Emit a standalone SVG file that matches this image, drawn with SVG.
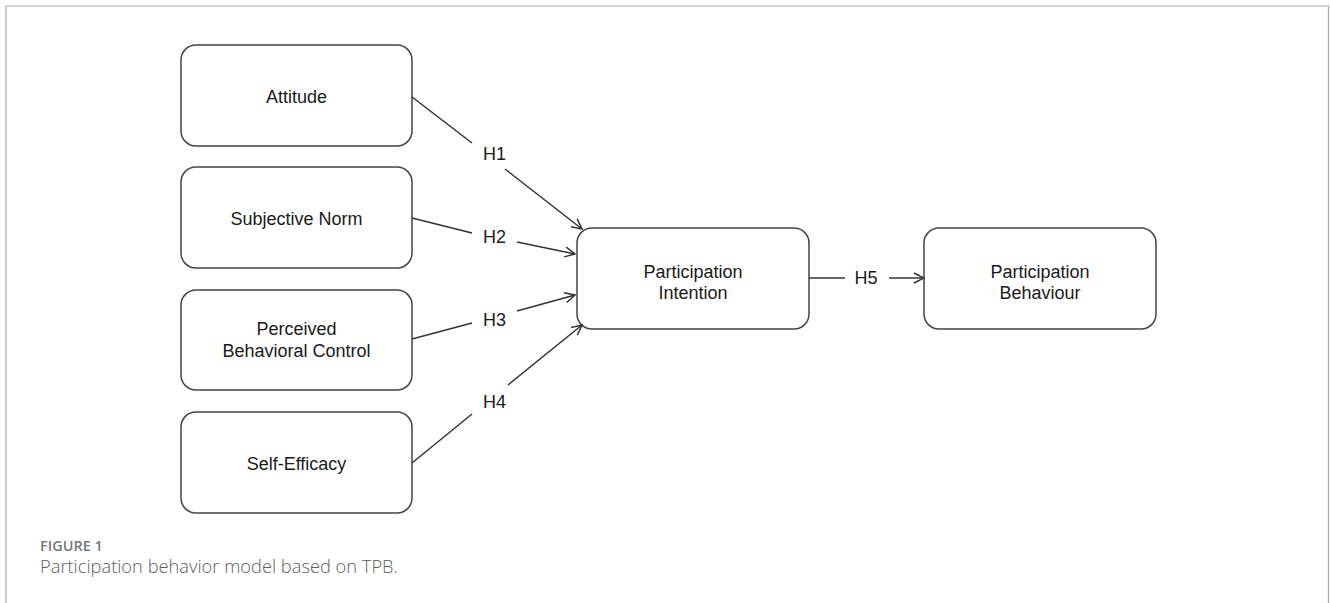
<svg xmlns="http://www.w3.org/2000/svg" width="1330" height="603" viewBox="0 0 1330 603">
<style>
.box{fill:#fff;stroke:#444;stroke-width:1.5}
.t{font-family:"Liberation Sans",Arial,sans-serif;font-size:18px;fill:#1a1a1a;text-anchor:middle}
.h{font-family:"Liberation Sans",Arial,sans-serif;font-size:18px;fill:#1a1a1a;text-anchor:middle}
.c{fill:none;stroke:#333;stroke-width:1.5}
.frame{fill:none;stroke:#aaa;stroke-width:1.2}
</style>
<defs>
<marker id="arr" viewBox="0 0 12 12" refX="11" refY="6" markerWidth="12" markerHeight="12" markerUnits="userSpaceOnUse" orient="auto">
<path d="M1,1 L11,6 L1,11" fill="none" stroke="#333" stroke-width="1.5"/>
</marker>
</defs>
<rect width="1330" height="603" fill="#fff"/>
<path class="frame" d="M6,603 V6 H1328.5 V603"/>
<g id="attitude"><rect class="box" x="181" y="45" width="231" height="101" rx="15"/><text class="t" x="296.5" y="103">Attitude</text></g>
<g id="subjective-norm"><rect class="box" x="181" y="167" width="231" height="101" rx="15"/><text class="t" x="296.5" y="225">Subjective Norm</text></g>
<g id="pbc"><rect class="box" x="181" y="290" width="231" height="100" rx="15"/><text class="t" x="296.5" y="335">Perceived</text><text class="t" x="296.5" y="357">Behavioral Control</text></g>
<g id="self-efficacy"><rect class="box" x="181" y="412" width="231" height="101" rx="15"/><text class="t" x="296.5" y="470">Self-Efficacy</text></g>
<g id="intention"><rect class="box" x="577" y="228" width="232" height="101" rx="15"/><text class="t" x="693" y="278">Participation</text><text class="t" x="693" y="299">Intention</text></g>
<g id="behaviour"><rect class="box" x="924" y="228" width="232" height="101" rx="15"/><text class="t" x="1040" y="278">Participation</text><text class="t" x="1040" y="299">Behaviour</text></g>
<g id="connectors">
<line class="c" x1="412" y1="97" x2="472" y2="143"/>
<line class="c" x1="505" y1="169" x2="582" y2="229" marker-end="url(#arr)"/>
<line class="c" x1="412" y1="218" x2="472" y2="233"/>
<line class="c" x1="517" y1="242" x2="575" y2="254" marker-end="url(#arr)"/>
<line class="c" x1="412" y1="339" x2="472" y2="323"/>
<line class="c" x1="517" y1="311" x2="575" y2="295" marker-end="url(#arr)"/>
<line class="c" x1="412" y1="463" x2="472" y2="414"/>
<line class="c" x1="508" y1="385" x2="582" y2="325" marker-end="url(#arr)"/>
<line class="c" x1="809" y1="278" x2="845" y2="278"/>
<line class="c" x1="889" y1="278" x2="924" y2="278" marker-end="url(#arr)"/>
<text class="h" x="494.5" y="160">H1</text>
<text class="h" x="494.5" y="243">H2</text>
<text class="h" x="494.5" y="326">H3</text>
<text class="h" x="494.5" y="408">H4</text>
<text class="h" x="866" y="284">H5</text>
</g>
<text x="40" y="551" font-family="'Open Sans',sans-serif" font-size="14.5" font-weight="600" fill="#777">FIGURE 1</text>
<text x="40" y="573" font-family="'Open Sans',sans-serif" font-size="18.3" font-weight="300" fill="#5e5e5e">Participation behavior model based on TPB.</text>
</svg>
